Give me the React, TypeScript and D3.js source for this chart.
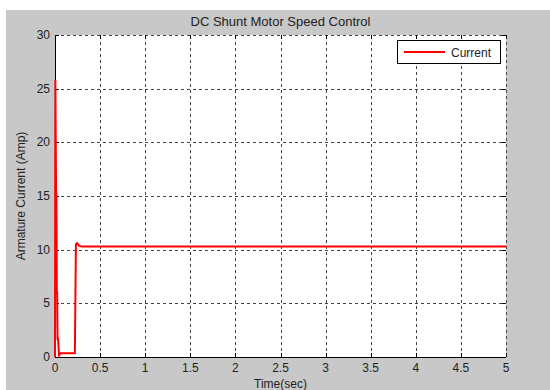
import React, { useEffect, useRef } from 'react'
import * as d3 from 'd3'

// simulated armature current trace (time in sec, current in Amp)
const timeSec = [0, 0.004, 0.008, 0.012, 0.016, 0.02, 0.024, 0.028, 0.034, 0.045, 0.06, 0.22, 0.232, 0.245, 0.27, 0.3, 5]
const currentAmp = [0, 25.8, 20.5, 15.3, 15.2, 6.0, 6.0, 1.7, 1.7, 0.15, 0.35, 0.35, 10.5, 10.6, 10.35, 10.3, 10.3]

const xTicks = [0, 0.5, 1, 1.5, 2, 2.5, 3, 3.5, 4, 4.5, 5]
const yTicks = [0, 5, 10, 15, 20, 25, 30]

const chartTitle = 'DC Shunt Motor Speed Control'
const xLabel = 'Time(sec)'
const yLabel = 'Armature Current (Amp)'
const seriesName = 'Current'

const W = 550
const H = 390
const margin = { top: 35, right: 44, bottom: 33, left: 55 }
const font = 'Arial, "Liberation Sans", Helvetica, sans-serif'
const textColor = '#222'

const App = () => {
  const svgRef = useRef<SVGSVGElement>(null)

  useEffect(() => {
    const svg = d3.select(svgRef.current)
    svg.selectAll('*').remove()

    const x0 = margin.left, x1 = W - margin.right
    const y0 = H - margin.bottom, y1 = margin.top

    const xScale = d3.scaleLinear().domain([0, 5]).range([x0, x1])
    const yScale = d3.scaleLinear().domain([0, 30]).range([y0, y1])

    // figure background
    svg.append('rect').attr('width', W).attr('height', H).attr('fill', '#fff')
    svg.append('rect').attr('x', 6).attr('y', 10).attr('width', W - 6).attr('height', H - 10).attr('fill', '#c8c8c8')

    // plot area
    svg.append('rect')
      .attr('x', x0).attr('y', y1)
      .attr('width', x1 - x0).attr('height', y0 - y1)
      .attr('fill', '#fff')

    // grid
    const grid = svg.append('g').attr('stroke', '#444').attr('stroke-dasharray', '3,3').attr('stroke-width', 1)
    grid.selectAll('line.gx')
      .data(xTicks.slice(1))
      .join('line')
        .attr('class', 'gx')
        .attr('x1', d => Math.round(xScale(d)) + 0.5)
        .attr('x2', d => Math.round(xScale(d)) + 0.5)
        .attr('y1', y0).attr('y2', y1)
    grid.selectAll('line.gy')
      .data(yTicks.slice(1))
      .join('line')
        .attr('class', 'gy')
        .attr('y1', d => Math.round(yScale(d)) + 0.5)
        .attr('y2', d => Math.round(yScale(d)) + 0.5)
        .attr('x1', x0).attr('x2', x1)

    // inward tick marks on all four sides
    const ticks = svg.append('g').attr('stroke', '#000').attr('stroke-width', 1)
    xTicks.forEach(t => {
      const px = Math.round(xScale(t)) + 0.5
      ticks.append('line').attr('x1', px).attr('x2', px).attr('y1', y0).attr('y2', y0 - 4)
      ticks.append('line').attr('x1', px).attr('x2', px).attr('y1', y1).attr('y2', y1 + 4)
    })
    yTicks.forEach(t => {
      const py = Math.round(yScale(t)) + 0.5
      ticks.append('line').attr('x1', x0).attr('x2', x0 + 4).attr('y1', py).attr('y2', py)
      ticks.append('line').attr('x1', x1).attr('x2', x1 - 4).attr('y1', py).attr('y2', py)
    })

    // axes: solid left and bottom
    svg.append('line').attr('x1', x0 + 0.5).attr('x2', x0 + 0.5).attr('y1', y1).attr('y2', y0)
      .attr('stroke', '#000')
    svg.append('line').attr('x1', x0).attr('x2', x1).attr('y1', y0 + 0.5).attr('y2', y0 + 0.5)
      .attr('stroke', '#000')

    // data line
    const pts = timeSec.map((t, i) => [t, currentAmp[i]] as [number, number])
    const line = d3.line<[number, number]>().x(d => xScale(d[0])).y(d => yScale(d[1]))
    svg.append('path')
      .attr('d', line(pts))
      .attr('fill', 'none')
      .attr('stroke', '#ff0000')
      .attr('stroke-width', 2)
      .attr('stroke-linejoin', 'miter')

    // tick labels
    svg.append('g')
      .selectAll('text')
      .data(xTicks)
      .join('text')
        .attr('x', d => xScale(d))
        .attr('y', y0 + 15)
        .attr('text-anchor', 'middle')
        .attr('font-family', font)
        .attr('font-size', 12)
        .attr('fill', textColor)
        .text(d => String(d))
    svg.append('g')
      .selectAll('text')
      .data(yTicks)
      .join('text')
        .attr('x', x0 - 5)
        .attr('y', d => yScale(d) + 4)
        .attr('text-anchor', 'end')
        .attr('font-family', font)
        .attr('font-size', 12)
        .attr('fill', textColor)
        .text(d => String(d))

    // title and axis labels
    svg.append('text')
      .attr('x', (x0 + x1) / 2)
      .attr('y', 26)
      .attr('text-anchor', 'middle')
      .attr('font-family', font)
      .attr('font-size', 13)
      .attr('fill', textColor)
      .text(chartTitle)
    svg.append('text')
      .attr('x', (x0 + x1) / 2)
      .attr('y', 388)
      .attr('text-anchor', 'middle')
      .attr('font-family', font)
      .attr('font-size', 12)
      .attr('fill', textColor)
      .text(xLabel)
    svg.append('text')
      .attr('transform', `translate(25,${(y0 + y1) / 2}) rotate(-90)`)
      .attr('text-anchor', 'middle')
      .attr('font-family', font)
      .attr('font-size', 12)
      .attr('fill', textColor)
      .text(yLabel)

    // legend
    const lg = svg.append('g')
    lg.append('rect')
      .attr('x', 397.5).attr('y', 40.5).attr('width', 103).attr('height', 23)
      .attr('fill', '#fff').attr('stroke', '#000')
    lg.append('line')
      .attr('x1', 404).attr('x2', 445).attr('y1', 52).attr('y2', 52)
      .attr('stroke', '#ff0000').attr('stroke-width', 2)
    lg.append('text')
      .attr('x', 451).attr('y', 56.5)
      .attr('font-family', font)
      .attr('font-size', 12)
      .attr('fill', textColor)
      .text(seriesName)
  }, [])

  return (
    <svg ref={svgRef} width={W} height={H} style={{ position: 'absolute', left: 0, top: 0 }}></svg>
  )
}

export default App
